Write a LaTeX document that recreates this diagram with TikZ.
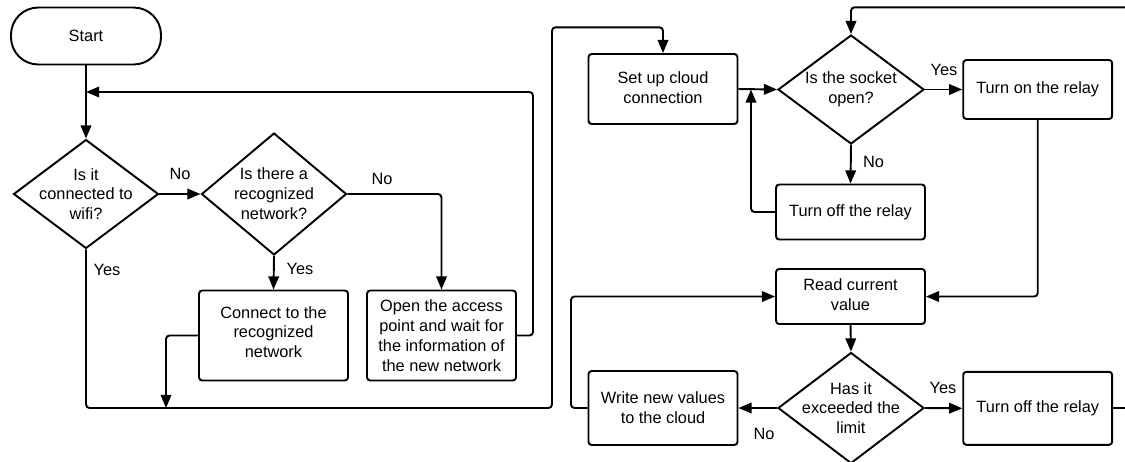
\documentclass[tikz,border=0pt]{standalone}
\usepackage{fontspec}
\setmainfont{Liberation Sans}
\usetikzlibrary{arrows.meta,shapes.geometric}
\begin{document}
\begin{tikzpicture}[x=0.02cm,y=-0.02cm,
  every node/.style={font=\fontsize{9.3}{11.3}\selectfont},
  box/.style={draw, line width=1.1pt, rounded corners=1.8pt, align=center, inner sep=0pt, minimum width=2.98cm},
  pill/.style={draw, line width=1.1pt, rounded corners=15.5pt, align=center, inner sep=0pt},
  dia/.style={draw, diamond, line width=1.1pt, inner sep=0pt},
  dtext/.style={align=center, inner sep=0pt},
  lbl/.style={inner sep=0pt},
  conn/.style={line width=1.1pt, rounded corners=2pt},
  arr/.style={conn, -{Triangle[length=7.5pt,width=6pt]}}]
\useasboundingbox (0,0) rectangle (1125,461);

% nodes
\node[pill, minimum width=3cm, minimum height=1.14cm] (start) at (86,36) {Start};
\node[dia, minimum width=2.9cm, minimum height=2.18cm] (d1) at (86,194) {};
\node[dtext] (d1t) at (86,194) {Is it\\connected to\\wifi?};
\node[dia, minimum width=2.9cm, minimum height=2.44cm] (d2) at (274,194) {};
\node[dtext] (d2t) at (274,194) {Is there a\\recognized\\network?};
\node[box, minimum height=1.8cm] (connect) at (273.5,335.5) {Connect to the\\recognized\\network\rule[-4pt]{0pt}{0pt}};
\node[box, minimum height=1.8cm] (open) at (441.5,335.5) {Open the access\\point and wait for\\the information of\\the new network};
\node[box, minimum height=1.4cm] (setup) at (663,89) {Set up cloud\\connection\rule[-2pt]{0pt}{0pt}};
\node[dia, minimum width=2.92cm, minimum height=2.18cm] (socket) at (851,89.5) {};
\node[dtext] (sockett) at (851,89.5) {Is the socket\\open?};
\node[box, minimum height=1.1cm] (off1) at (850.5,212) {Turn off the relay};
\node[box, minimum height=1.18cm] (on) at (1037.7,89.5) {Turn on the relay};
\node[box, minimum height=1.1cm] (read) at (850.5,296.5) {Read current\\value\rule[-2pt]{0pt}{0pt}};
\node[dia, minimum width=2.92cm, minimum height=2.22cm] (has) at (851,408) {};
\node[dtext] (hast) at (851,408) {Has it\\exceeded the\\limit};
\node[box, minimum height=1.48cm] (write) at (663,408) {Write new values\\to the cloud};
\node[box, minimum height=1.46cm] (off2) at (1037.7,408.3) {Turn off the relay};

% helper coordinates
\coordinate (lp1) at (533,92);
\coordinate (lp2) at (86,92);
\coordinate (b2) at (552,408);
\coordinate (b3) at (552,27.3);
\coordinate (m1) at (166,408);
\coordinate (j1) at (751,89.5);
\coordinate (w1) at (571,296.5);
\coordinate (e1) at (1130,408.3);
\coordinate (e2) at (1130,7.3);

% connectors
\draw[arr] (start.south) -- (d1.north);
\draw[arr] (open.east) -| (lp1) -- (lp2);
\draw[arr] (d1.east) -- (d2.west);
\draw[arr] (d2.east) -| (open.north);
\draw[arr] (d2.south) -- (connect.north);
\draw[arr] (d1.south) |- (b2) -- (b3) -| (setup.north);
\draw[arr] (connect.west) -| (m1);
\draw[arr] (setup.east) -- (socket.west);
\draw[arr] (socket.east) -- (on.west);
\draw[arr] (socket.south) -- (off1.north);
\draw[arr] (off1.west) -| (j1);
\draw[arr] (on.south) |- (read.east);
\draw[arr] (read.south) -- (has.north);
\draw[arr] (has.west) -- (write.east);
\draw[arr] (write.west) -| (w1) -- (read.west);
\draw[arr] (has.east) -- (off2.west);
\draw[conn] (off2.east) -- (e1);
\draw[arr] (e2) -| (socket.north);

% labels
\node[lbl] (l1) at (180,174) {No};
\node[lbl] (l2) at (382,179) {No};
\node[lbl] (l3) at (107,270) {Yes};
\node[lbl] (l4) at (300,269) {Yes};
\node[lbl] (l5) at (944,70) {Yes};
\node[lbl] (l6) at (873.5,162) {No};
\node[lbl] (l7) at (764,434) {No};
\node[lbl] (l8) at (943,388) {Yes};
\end{tikzpicture}
\end{document}
